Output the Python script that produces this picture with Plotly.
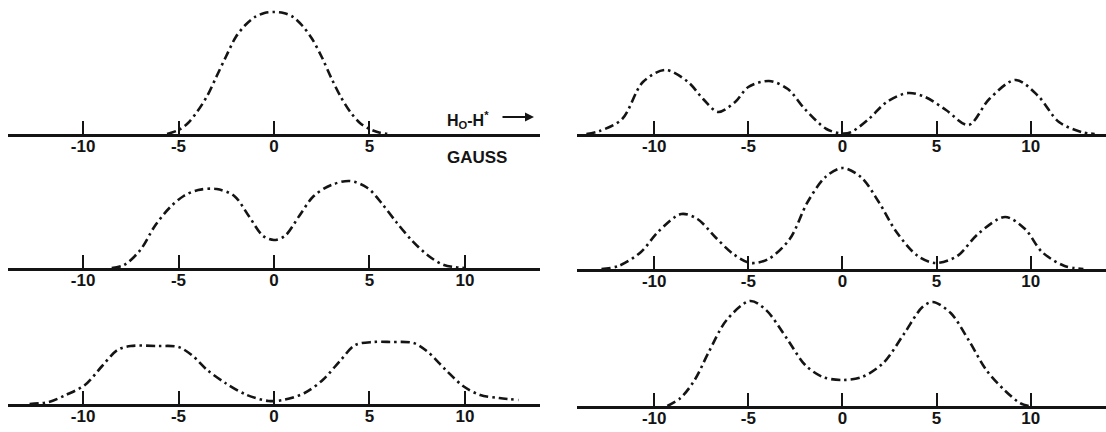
import plotly.graph_objects as go

# Field offset H0 - H* in gauss, and line-shape heights (arbitrary units)
tl_x = [-5.6, -5, -4.5, -4, -3.5, -3, -2.5, -2, -1.5, -1, -0.5, 0, 0.5, 1, 1.5, 2, 2.5, 3, 3.5, 4, 4.5, 5, 5.5, 6.1]
tl_y = [0, 4, 11, 23, 38, 58, 78, 97, 109, 117, 121, 122, 121, 117, 108, 95, 77, 56, 37, 22, 11, 5, 1.5, 0]

ml_x = [-8.5, -7.85, -7.0, -6.24, -5.48, -4.73, -3.97, -3.0, -2.08, -1.32, -0.57, 0, 0.57, 1.32, 2.08, 3.0, 3.97, 4.9, 5.67, 6.4, 7.2, 8.1, 8.9, 10.0]
ml_y = [0, 3, 18, 42, 60, 72, 78, 79, 72, 52, 32, 28, 32, 52, 72, 83, 87, 80, 64, 46, 28, 12, 3, 0]

bl_x = [-12.8, -11.8, -10.9, -9.9, -9.0, -8.2, -7.5, -6.1, -5.0, -4.25, -3.5, -2.55, -1.42, -0.28, 0.47, 1.6, 2.55, 3.5, 4.25, 5.2, 6.1, 7.3, 8.0, 9.0, 9.9, 10.8, 11.8, 12.8]
bl_y = [0, 2, 9, 19, 38, 54, 58, 58, 57, 48, 34, 21, 9, 3, 4, 11, 24, 44, 59, 62, 62, 61, 53, 34, 18, 9, 6, 4]

tr_x = [-13.6, -12.9, -11.7, -10.6, -9.4, -8.2, -7.4, -6.6, -5.7, -5.0, -3.9, -2.9, -2.0, -0.85, 0, 0.47, 1.4, 2.35, 3.5, 4.4, 5.5, 6.7, 7.8, 9.2, 10.4, 11.5, 12.7, 13.4]
tr_y = [0, 3, 15, 52, 64, 52, 35, 22, 32, 47, 53, 45, 25, 5, 0.5, 2, 15, 32, 41, 37, 24, 9, 35, 54, 38, 12, 2, 0]

mr_x = [-12.8, -11.9, -10.7, -9.8, -8.56, -7.7, -6.76, -5.8, -4.87, -3.93, -2.8, -1.85, -0.9, 0, 0.98, 1.93, 2.87, 4.0, 4.95, 6.1, 7.2, 8.64, 9.7, 10.6, 11.8, 12.8]
mr_y = [0, 3, 17, 37, 55, 50, 32, 15, 6, 10, 30, 67, 92, 101, 92, 67, 37, 13, 6, 13, 35, 52, 40, 17, 3, 0]

br_x = [-9.3, -8.6, -7.85, -7.1, -6.15, -4.9, -4.06, -2.9, -1.98, -1.04, 0, 1.04, 2.17, 3.3, 4.25, 4.8, 5.75, 6.7, 7.64, 8.6, 9.43, 9.9]
br_y = [0, 8, 26, 54, 86, 105, 96, 66, 41, 29, 26, 29, 43, 73, 99, 104, 93, 66, 36, 16, 3, 0]

tick_vals_short = [-10, -5, 0, 5]
tick_vals_full = [-10, -5, 0, 5, 10]
tick_text_short = ["-10", "-5", "0", "5"]
tick_text_full = ["-10", "-5", "0", "5", "10"]

W, H = 1106, 432
INK = "#141414"
FONT = "Liberation Sans"

# panel geometry in pixels: (left px, right px, x range), baseline px, height px
LEFT = (8, 540, [-13.93, 13.93])
RIGHT = (577, 1106, [-14.1, 14.0])

panels = [
    (tl_x, tl_y, LEFT, 134, 130, tick_vals_short, tick_text_short),
    (ml_x, ml_y, LEFT, 268, 110, tick_vals_full, tick_text_full),
    (bl_x, bl_y, LEFT, 404, 110, tick_vals_full, tick_text_full),
    (tr_x, tr_y, RIGHT, 134, 130, tick_vals_full, tick_text_full),
    (mr_x, mr_y, RIGHT, 269, 110, tick_vals_full, tick_text_full),
    (br_x, br_y, RIGHT, 406, 110, tick_vals_full, tick_text_full),
]

fig = go.Figure()
layout = {}
for i, (xs, ys, col, base, hgt, tv, tt) in enumerate(panels):
    n = "" if i == 0 else str(i + 1)
    left, right, xr = col
    fig.add_trace(go.Scatter(
        x=xs, y=ys, mode="lines", line_shape="spline",
        line=dict(color=INK, width=2.6, dash="9px,4px,2.5px,4px", smoothing=0.9),
        xaxis="x" + n, yaxis="y" + n, showlegend=False, hoverinfo="skip",
    ))
    layout["xaxis" + n] = dict(
        domain=[left / W, right / W], range=xr, anchor="y" + n,
        showline=True, linecolor=INK, linewidth=2.8,
        ticks="inside", ticklen=13, tickwidth=2.2, tickcolor=INK,
        tickvals=tv, ticktext=tt, showgrid=False, zeroline=False,
        tickfont=dict(family=FONT, size=17, color=INK, weight="bold"),
        ticklabelstandoff=-5, fixedrange=True,
    )
    layout["yaxis" + n] = dict(
        domain=[(H - base) / H, (H - base + hgt) / H], range=[0, hgt],
        anchor="x" + n, visible=False, fixedrange=True,
    )


def px(x, y):
    """Pixel position (from top-left) to paper coordinates."""
    return x / W, (H - y) / H


lx, ly = px(468, 107)
ax_, ay_ = px(534, 117)
gx, gy = px(477, 157)

fig.update_layout(**layout)
fig.update_layout(
    width=W, height=H, margin=dict(l=0, r=0, t=0, b=0),
    paper_bgcolor="white", plot_bgcolor="rgba(0,0,0,0)",
    annotations=[
        dict(x=lx, y=ly, xref="paper", yref="paper", showarrow=False,
             text="<b>H<sub>O</sub>-H<sup>*</sup></b>",
             font=dict(family=FONT, size=16, color=INK)),
        dict(x=ax_, y=ay_, ax=-33, ay=0, xref="paper", yref="paper",
             axref="pixel", ayref="pixel", text="", showarrow=True,
             arrowhead=2, arrowsize=1, arrowwidth=1.8, arrowcolor=INK),
        dict(x=gx, y=gy, xref="paper", yref="paper", showarrow=False,
             text="<b>GAUSS</b>",
             font=dict(family=FONT, size=17, color=INK)),
    ],
)

fig.write_html("out.html")
